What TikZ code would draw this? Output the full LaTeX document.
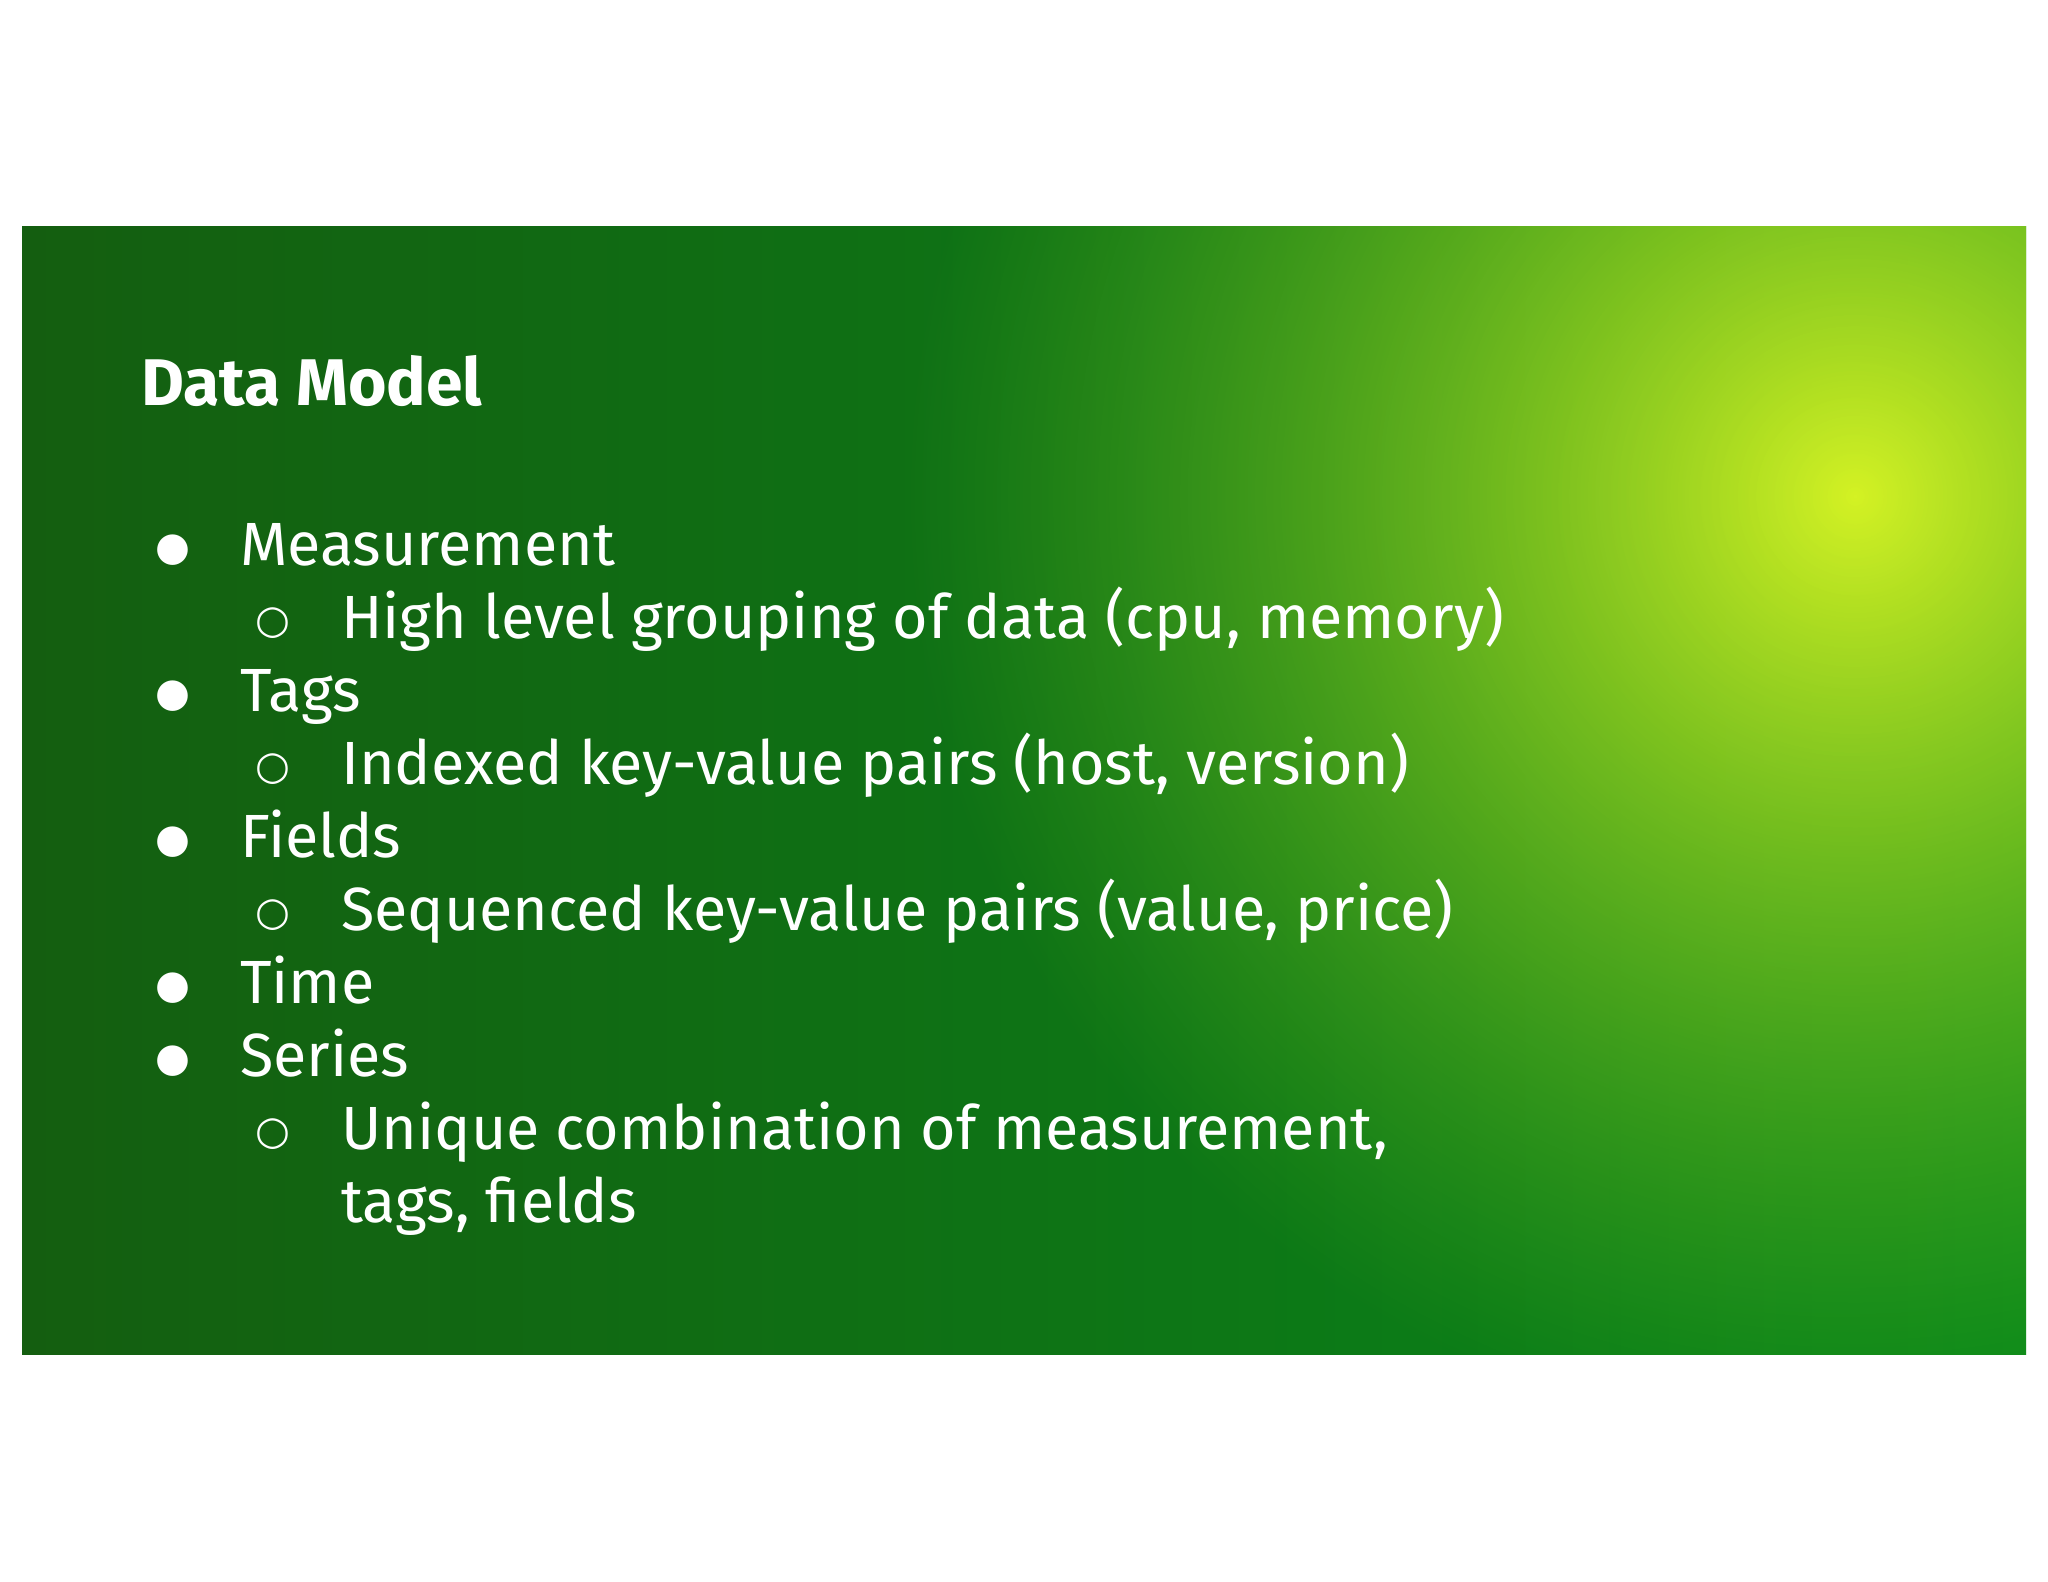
\documentclass[tikz,border=0pt]{standalone}
\usepackage{fontspec}
\setmainfont{Fira Sans}
\newfontfamily\symfont{DejaVu Sans}
\usetikzlibrary{fadings}
\tikzfading[name=fadeout, inner color=transparent!0, outer color=transparent!100]
\definecolor{darkg}{HTML}{145E10}
\definecolor{midg}{HTML}{08881A}
\definecolor{glow}{HTML}{D4F224}
\tikzset{
  body/.style={anchor=base west, text=white, inner sep=0pt, font=\fontsize{61}{66}\selectfont},
  ttl/.style={anchor=base west, text=white, inner sep=0pt, font=\fontsize{66}{70}\selectfont\bfseries},
  bul/.style={anchor=base west, text=white, inner sep=0pt, font=\symfont\fontsize{40}{44}\selectfont}
}
\begin{document}
\begin{tikzpicture}[x=1pt,y=-1pt]
\useasboundingbox (0,0) rectangle (2048,1582);
\fill[white] (0,0) rectangle (2048,1582);
\begin{scope}
\clip (22,226) rectangle (2026,1354);
\shade[left color=darkg, middle color=midg!85!darkg, right color=midg] (22,226) rectangle (2026,1354);
\shade[inner color=glow, outer color=midg!50!glow, path fading=fadeout] (1855,496) circle (950);
\end{scope}
\node[ttl] (t) at (141,405) {Data Model};
\node[bul] (b1) at (155,560) {●};
\node[body] (l1) at (240,565) {Measurement};
\node[bul] (s1) at (255,633) {○};
\node[body] (l2) at (341,638) {High level grouping of data (cpu, memory)};
\node[bul] (b2) at (155,706) {●};
\node[body] (l3) at (240,711) {Tags};
\node[bul] (s2) at (255,779) {○};
\node[body] (l4) at (341,784) {Indexed key-value pairs (host, version)};
\node[bul] (b3) at (155,852) {●};
\node[body] (l5) at (240,857) {Fields};
\node[bul] (s3) at (255,925) {○};
\node[body] (l6) at (341,930) {Sequenced key-value pairs (value, price)};
\node[bul] (b4) at (155,998) {●};
\node[body] (l7) at (240,1003) {Time};
\node[bul] (b5) at (155,1071) {●};
\node[body] (l8) at (240,1076) {Series};
\node[bul] (s4) at (255,1144) {○};
\node[body] (l9) at (341,1149) {Unique combination of measurement,};
\node[body] (l10) at (341,1222) {tags, fields};
\end{tikzpicture}
\end{document}
